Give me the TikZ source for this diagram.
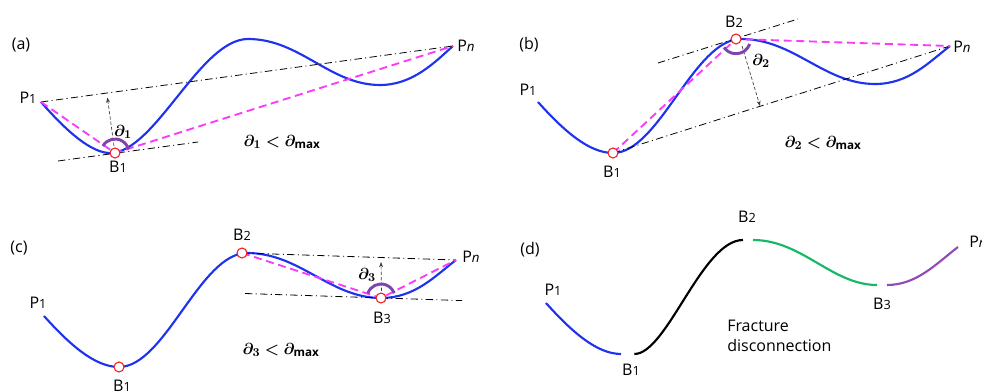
\documentclass[tikz,border=0pt]{standalone}
\usepackage{amsmath,bm}
\usepackage{fontspec}
\setmainfont{Open Sans}
\usetikzlibrary{arrows.meta}
\definecolor{curveblue}{RGB}{30,50,240}
\definecolor{mag}{RGB}{250,60,250}
\definecolor{arcpurple}{RGB}{125,70,175}
\definecolor{ptred}{RGB}{240,30,30}
\definecolor{seggreen}{RGB}{20,185,100}
\definecolor{segpurple}{RGB}{145,75,180}
\newcommand\subd[1]{{\fontsize{9.5}{10}\selectfont #1}}
\newcommand\PnLab{P{\fontsize{10}{10}\selectfont\itshape n}}
\newcommand\dLab[1]{$\bm{\partial}_{\bm{#1}}$}
\newcommand\condLab[1]{$\bm{\partial}_{\bm{#1}} \mathrel{\bm{<}} \bm{\partial}_{\mathbf{max}}$}
\tikzset{
  curveS/.style={curveblue, line width=1.6pt},
  chordS/.style={mag, line width=1.4pt, dash pattern=on 6pt off 3.5pt},
  ddS/.style={black, line width=0.6pt, dash pattern=on 5.5pt off 2.5pt on 0.8pt off 2.5pt},
  perpS/.style={black!75, line width=0.5pt, dash pattern=on 2.5pt off 1.5pt, -{Stealth[length=4pt,width=3pt]}},
  angS/.style={arcpurple, line width=2.2pt},
  bptS/.style={circle, draw=ptred, fill=white, line width=0.8pt, minimum size=7.5pt, inner sep=0pt},
  lblS/.style={font=\fontsize{12}{14}\selectfont, inner sep=0pt},
  condS/.style={font=\fontsize{12.5}{15}\selectfont, inner sep=0pt},
  segS/.style={line width=1.6pt},
}
\begin{document}
\begin{tikzpicture}[x=0.75pt,y=-0.75pt]
\useasboundingbox (0,0) rectangle (982,391);

%================ (a)
\coordinate (aP1) at (41,102);
\coordinate (aB1) at (115,153);
\coordinate (aPn) at (453,46);
\coordinate (aT1) at (58,161);
\coordinate (aT2) at (198,142);
\coordinate (aA0) at (114,146);
\coordinate (aA1) at (107.4,97.5);
\draw[curveS] (aP1) .. controls (68,133) and (92,153) .. (110,153)
  .. controls (155,153) and (200,39) .. (248,39)
  .. controls (300,39) and (330,85) .. (380,85)
  .. controls (413,85) and (435,62) .. (aPn);
\draw[ddS] (aT1) -- (aT2);
\draw[ddS] (aP1) -- (aPn);
\draw[chordS] (aP1) -- (aB1) -- (aPn);
\draw[perpS] (aA0) -- (aA1);
\draw[angS] (aB1) ++(150:10.5pt) arc[start angle=150, end angle=15, radius=10.5pt];
\node[bptS] (aB1c) at (aB1) {};
\node[lblS] (aLab) at (21,45) {(a)};
\node[lblS] (aP1L) at (28,98) {P\subd{1}};
\node[lblS] (aB1L) at (118,167) {B\subd{1}};
\node[lblS] (aPnL) at (466,46) {\PnLab};
\node[condS] (aD1) at (123,132) {\dLab{1}};
\node[condS] (aC) at (282,142) {\condLab{1}};

%================ (b)
\begin{scope}[shift={(494,-214)}]
\coordinate (bP1) at (44,316);
\coordinate (bB1) at (119,367);
\coordinate (bB2) at (242,253);
\coordinate (bPn) at (456,260);
\coordinate (bT1) at (164,277);
\coordinate (bT2) at (304,233);
\coordinate (bA0) at (248,260);
\coordinate (bA1) at (266,320);
\draw[curveS] (bP1) .. controls (70,345) and (95,367) .. (bB1)
  .. controls (165,367) and (200,253) .. (247,253)
  .. controls (300,253) and (330,298) .. (381,298)
  .. controls (415,298) and (435,276) .. (bPn);
\draw[ddS] (bT1) -- (bT2);
\draw[ddS] (bB1) -- (bPn);
\draw[chordS] (bB1) -- (bB2) -- (bPn);
\draw[perpS] (bA0) -- (bA1);
\draw[angS] (bB2) ++(215:11pt) arc[start angle=215, end angle=340, radius=11pt];
\node[bptS] (bB1c) at (bB1) {};
\node[bptS] (bB2c) at (bB2) {};
\node[condS] (bD2) at (267,275) {\dLab{2}};
\end{scope}
\node[lblS] (bLab) at (529,45) {(b)};
\node[lblS] (bP1L) at (528,90) {P\subd{1}};
\node[lblS] (bB1L) at (612,172) {B\subd{1}};
\node[lblS] (bB2L) at (734,22) {B\subd{2}};
\node[lblS] (bPnL) at (962,47) {\PnLab};
\node[condS] (bC) at (823,143) {\condLab{2}};

%================ (c)
\coordinate (cP1) at (44,316);
\coordinate (cB1) at (119,367);
\coordinate (cB2) at (242,253);
\coordinate (cB3) at (381,298);
\coordinate (cPn) at (456,260);
\coordinate (cT1) at (245,293.5);
\coordinate (cT2) at (462,300.6);
\coordinate (cA0) at (381.5,291);
\coordinate (cA1) at (381,262);
\draw[curveS] (cP1) .. controls (70,345) and (95,367) .. (cB1)
  .. controls (165,367) and (200,253) .. (247,253)
  .. controls (300,253) and (330,298) .. (cB3)
  .. controls (415,298) and (435,276) .. (cPn);
\draw[ddS] (cT1) -- (cT2);
\draw[ddS] (cB2) -- (cPn);
\draw[chordS] (cB2) -- (cB3) -- (cPn);
\draw[perpS] (cA0) -- (cA1);
\draw[angS] (cB3) ++(160:10.5pt) arc[start angle=160, end angle=20, radius=10.5pt];
\node[bptS] (cB1c) at (cB1) {};
\node[bptS] (cB2c) at (cB2) {};
\node[bptS] (cB3c) at (cB3) {};
\node[lblS] (cLab) at (19,248) {(c)};
\node[lblS] (cP1L) at (38,303) {P\subd{1}};
\node[lblS] (cB1L) at (122,386) {B\subd{1}};
\node[lblS] (cB2L) at (242,235) {B\subd{2}};
\node[lblS] (cB3L) at (382,318) {B\subd{3}};
\node[lblS] (cPnL) at (471,257) {\PnLab};
\node[condS] (cD3) at (367,275) {\dLab{3}};
\node[condS] (cC) at (281,350) {\condLab{3}};

%================ (d)
\begin{scope}[shift={(502,-13)}]
\coordinate (dP1) at (44,316);
\coordinate (dB1) at (119,367);
\coordinate (dB2) at (247,253);
\coordinate (dB3) at (381,298);
\coordinate (dPn) at (456,260);
\draw[segS, curveblue] (dP1) .. controls (70,345) and (95,367) .. (dB1);
\draw[segS, black, shorten <=10pt, shorten >=4.5pt] (dB1) .. controls (165,367) and (200,253) .. (dB2);
\draw[segS, seggreen, shorten <=3pt, shorten >=4.5pt] (dB2) .. controls (300,253) and (330,298) .. (dB3);
\draw[segS, segpurple, shorten <=3pt] (dB3) .. controls (415,298) and (435,276) .. (dPn);
\end{scope}
\node[lblS] (dLab) at (530,250) {(d)};
\node[lblS] (dP1L) at (553,290) {P\subd{1}};
\node[lblS] (dB1L) at (631,370) {B\subd{1}};
\node[lblS] (dB2L) at (747,217) {B\subd{2}};
\node[lblS] (dB3L) at (882,304) {B\subd{3}};
\node[lblS, anchor=west] (dPnL) at (969,242) {\PnLab};
\node[lblS, anchor=north west, align=left, font=\fontsize{12}{15}\selectfont] (dTxt) at (727,320) {Fracture\\disconnection};
\end{tikzpicture}
\end{document}
